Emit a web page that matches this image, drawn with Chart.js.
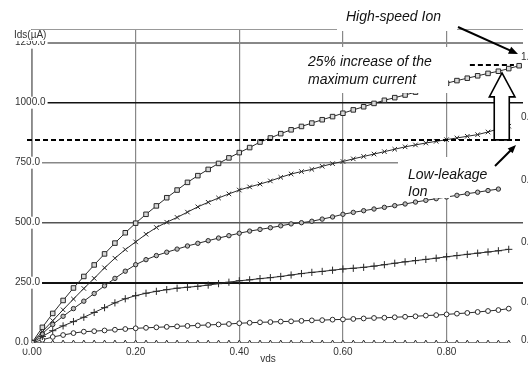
<!DOCTYPE html>
<html>
<head>
<meta charset="utf-8">
<script src="https://cdn.jsdelivr.net/npm/chart.js@4/dist/chart.umd.min.js"></script>
<style>
  html, body { margin: 0; padding: 0; background: #fff; }
  #wrap { width: 528px; height: 365px; position: relative; }
</style>
</head>
<body>
<div id="wrap"><canvas id="c"></canvas></div>
<script>
// Drain voltage sweep (V)
const vds = [0.00,0.02,0.04,0.06,0.08,0.10,0.12,0.14,0.16,0.18,0.20,0.22,0.24,0.26,0.28,0.30,0.32,0.34,0.36,0.38,
             0.40,0.42,0.44,0.46,0.48,0.50,0.52,0.54,0.56,0.58,0.60,0.62,0.64,0.66,0.68,0.70,0.72,0.74,0.76,0.78,
             0.80,0.82,0.84,0.86,0.88,0.90,0.92,0.94];

// Drain current (uA) for each gate voltage
const idsVg10 = [0,64,122,176,228,276,324,370,415,458,498,535,570,604,636,668,696,722,747,770,
                 792,813,836,853,871,887,901,915,929,942,956,970,983,997,1010,1021,1032,1044,1055,1068,
                 1081,1092,1102,1112,1122,1131,1142,1154];
const idsVg08 = [0,46,92,137,182,226,268,312,352,388,420,452,480,502,522,544,566,585,603,620,
                 636,649,661,674,689,703,713,722,735,746,755,766,776,786,796,806,816,824,832,839,
                 846,853,860,867,878,891,902,null];
const idsVg06 = [0,38,76,110,142,173,205,237,268,298,325,346,363,377,390,403,414,425,436,446,
                 456,465,472,479,487,495,500,506,515,524,535,543,550,557,564,571,578,586,593,600,
                 607,614,621,627,634,640,null,null];
const idsVg04 = [0,26,50,70,88,106,126,146,166,183,196,206,214,221,227,231,235,240,246,252,
                 258,262,267,271,276,282,288,293,297,302,307,310,314,319,325,331,337,342,347,352,
                 358,363,368,373,378,383,389,null];
const idsVg02 = [0,12,24,32,40,46,48,51,54,57,60,62,64,66,68,70,72,74,76,78,
                 81,83,85,86,88,89,91,93,94,96,97,99,101,103,104,106,108,110,113,115,
                 118,121,124,128,132,136,142,null];
const idsVg00 = [0,0,0,0,0,0,0,0,0,0,0,0,0,0,0,0,0,0,0,0,
                 0,0,0,0,0,0,0,0,0,0,0,0,0,0,0,0,0,0,0,0,
                 0,0,0,0,0,0,0,null];

const gateLabels = ['1.0', '0.8', '0.6', '0.4', '0.2', '0.0'];
const xTickValues = [0, 0.2, 0.4, 0.6, 0.8];
const yTickValues = [0, 250, 500, 750, 1000, 1250];

// Reference current levels (uA)
const lowLeakageIon = 845;
const highSpeedIon = 1157;

const series = [
  { vals: idsVg10, style: 'rect',     r: 3.2, fill: '#d8d8d8' },
  { vals: idsVg08, style: 'crossRot', r: 3.2, fill: '#fff' },
  { vals: idsVg06, style: 'circle',   r: 2.2, fill: '#bbb' },
  { vals: idsVg04, style: 'cross',    r: 3.6, fill: '#fff' },
  { vals: idsVg02, style: 'circle',   r: 2.4, fill: '#fff' },
  { vals: idsVg00, style: 'triangle', r: 2.6, fill: '#fff' }
];

const datasets = series.map((s, i) => ({
  label: 'Vg ' + gateLabels[i],
  data: vds.map((v, k) => ({ x: v, y: s.vals[k] })),
  borderColor: '#2a2a2a',
  borderWidth: 1,
  pointStyle: s.style,
  pointRadius: s.r,
  pointBorderWidth: 1,
  pointBorderColor: '#2a2a2a',
  pointBackgroundColor: s.fill,
  spanGaps: false,
  tension: 0
}));

function gridColor(v) {
  if (v === 0) return 'rgba(0,0,0,0)';
  if (v === 1000 || v === 250) return '#111';
  if (v === 500) return '#555';
  return '#888';
}
function gridWidth(v) {
  if (v === 250 || v === 1250) return 2;
  if (v === 1000 || v === 500) return 1.6;
  return 1.4;
}

const annotate = {
  id: 'annotate',
  afterDatasetsDraw(chart) {
    const ctx = chart.ctx;
    const xs = chart.scales.x, ys = chart.scales.y;
    const area = chart.chartArea;
    const X = v => xs.getPixelForValue(v);
    const Y = v => ys.getPixelForValue(v);
    ctx.save();

    // top frame line
    ctx.strokeStyle = '#999';
    ctx.lineWidth = 1;
    ctx.beginPath();
    ctx.moveTo(area.left, area.top + 0.5);
    ctx.lineTo(area.right, area.top + 0.5);
    ctx.stroke();

    // low-leakage Ion level
    ctx.strokeStyle = '#000';
    ctx.lineWidth = 2;
    ctx.setLineDash([5, 3]);
    ctx.beginPath();
    ctx.moveTo(area.left - 5, Y(lowLeakageIon));
    ctx.lineTo(area.right, Y(lowLeakageIon));
    ctx.stroke();
    // high-speed Ion level
    ctx.beginPath();
    ctx.moveTo(X(0.845), Y(highSpeedIon));
    ctx.lineTo(X(0.93), Y(highSpeedIon));
    ctx.stroke();
    ctx.setLineDash([]);

    ctx.fillStyle = '#fff';
    // label panels
    ctx.fillRect(300, 47, 148, 46);
    ctx.fillRect(337, 0, 120, 31);
    ctx.fillRect(398, 157, 130, 27);
    ctx.fillRect(398, 184, 52, 14);

    ctx.fillStyle = '#111';
    ctx.font = 'italic 14px "Liberation Sans", Arial, sans-serif';
    ctx.textBaseline = 'middle';
    ctx.textAlign = 'left';
    ctx.fillText('High-speed Ion', 346, 17);
    ctx.fillText('25% increase of the', 308, 62);
    ctx.fillText('maximum current', 308, 80);
    ctx.fillText('Low-leakage', 408, 175);
    ctx.fillText('Ion', 408, 192);

    // arrow helper
    function arrow(x1, y1, x2, y2, head, w) {
      const a = Math.atan2(y2 - y1, x2 - x1);
      ctx.strokeStyle = '#000';
      ctx.fillStyle = '#000';
      ctx.lineWidth = w;
      ctx.beginPath();
      ctx.moveTo(x1, y1);
      ctx.lineTo(x2 - Math.cos(a) * head * 0.7, y2 - Math.sin(a) * head * 0.7);
      ctx.stroke();
      ctx.beginPath();
      ctx.moveTo(x2, y2);
      ctx.lineTo(x2 - head * Math.cos(a - 0.4), y2 - head * Math.sin(a - 0.4));
      ctx.lineTo(x2 - head * Math.cos(a + 0.4), y2 - head * Math.sin(a + 0.4));
      ctx.closePath();
      ctx.fill();
    }
    arrow(458, 27, 518, 54, 10, 2);
    arrow(495, 166, 516, 145, 9, 2);

    // hollow block arrow from low-leakage to high-speed level
    const sL = X(0.892), sR = X(0.921), hL = X(0.8825), hR = X(0.932), tip = X(0.907);
    const yBase = Y(lowLeakageIon), yHead = Y(1024), yTip = Y(1124);
    ctx.beginPath();
    ctx.moveTo(sL, yBase);
    ctx.lineTo(sL, yHead);
    ctx.lineTo(hL, yHead);
    ctx.lineTo(tip, yTip);
    ctx.lineTo(hR, yHead);
    ctx.lineTo(sR, yHead);
    ctx.lineTo(sR, yBase);
    ctx.closePath();
    ctx.fillStyle = '#fff';
    ctx.fill();
    ctx.strokeStyle = '#000';
    ctx.lineWidth = 1.6;
    ctx.stroke();

    // gate-voltage tags at curve ends
    ctx.font = '10px "Liberation Sans", Arial, sans-serif';
    ctx.fillStyle = '#333';
    ctx.textBaseline = 'middle';
    const tagY = [1190, 940, 677, 419, 170, 10];
    tagY.forEach((v, i) => ctx.fillText(gateLabels[i], 521, Y(v)));

    // axis titles
    ctx.fillStyle = '#fff';
    ctx.fillRect(13, 30, 36, 11);
    ctx.fillStyle = '#333';
    ctx.font = '10px "Liberation Sans", Arial, sans-serif';
    ctx.textAlign = 'left';
    ctx.fillText('Ids(\u00b5A)', 14, 35.5);
    ctx.textAlign = 'center';
    ctx.fillText('vds', 268, 359);
    ctx.restore();
  }
};

new Chart(document.getElementById('c'), {
  type: 'line',
  data: { datasets },
  options: {
    responsive: true,
    maintainAspectRatio: false,
    animation: false,
    events: [],
    layout: { padding: { left: 15, top: 29, right: 0, bottom: 0 } },
    plugins: { legend: { display: false }, tooltip: { enabled: false } },
    scales: {
      x: {
        type: 'linear',
        min: 0,
        max: 0.9475,
        afterBuildTicks: s => { s.ticks = xTickValues.map(v => ({ value: v })); },
        afterFit: s => { s.height = 22.3; },
        border: { display: false },
        grid: { color: '#888', lineWidth: 1.2, drawTicks: false },
        ticks: {
          padding: 4,
          color: '#333',
          font: { family: '"Liberation Sans", Arial, sans-serif', size: 10 },
          callback: v => Number(v).toFixed(2),
          maxRotation: 0
        }
      },
      y: {
        type: 'linear',
        min: 0,
        max: 1307,
        afterBuildTicks: s => { s.ticks = yTickValues.map(v => ({ value: v })); },
        afterFit: s => { s.width = 17; },
        border: { display: true, color: '#999', width: 1 },
        grid: {
          drawTicks: false,
          color: c => gridColor(c.tick ? c.tick.value : -1),
          lineWidth: c => gridWidth(c.tick ? c.tick.value : -1)
        },
        ticks: {
          mirror: true,
          crossAlign: 'near',
          padding: -17,
          color: '#333',
          font: { family: '"Liberation Sans", Arial, sans-serif', size: 10 },
          showLabelBackdrop: true,
          backdropColor: '#fff',
          backdropPadding: { top: 0, bottom: 0, left: 0, right: 2 },
          callback: v => Number(v).toFixed(1)
        }
      }
    }
  },
  plugins: [annotate]
});
</script>
</body>
</html>
